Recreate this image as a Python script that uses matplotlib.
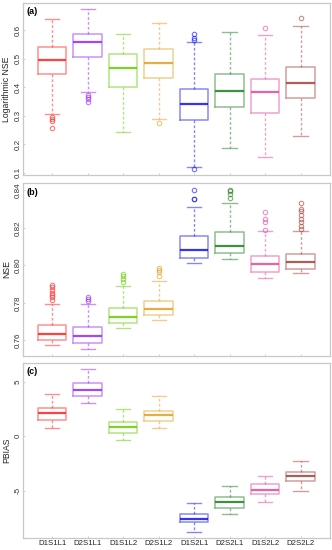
import matplotlib
matplotlib.use("Agg")
import matplotlib.pyplot as plt
from matplotlib.colors import to_rgba

plt.rcParams['font.family'] = ['Liberation Sans', 'DejaVu Sans']

groups = ['D1S1L1', 'D2S1L1', 'D1S1L2', 'D2S1L2', 'D1S2L1', 'D2S2L1', 'D1S2L2', 'D2S2L2']
colors = ['#FF2020', '#9428F0', '#66CC00', '#E0A020', '#1010F0', '#1E7D1E', '#E0489A', '#A0403A']

# (whislo, q1, med, q3, whishi)
log_nse = [(0.304, 0.447, 0.495, 0.541, 0.638), (0.382, 0.506, 0.558, 0.588, 0.673),
           (0.241, 0.401, 0.466, 0.516, 0.588), (0.288, 0.431, 0.485, 0.534, 0.624),
           (0.121, 0.286, 0.342, 0.395, 0.558), (0.188, 0.332, 0.388, 0.447, 0.593),
           (0.155, 0.311, 0.382, 0.428, 0.582), (0.227, 0.362, 0.414, 0.472, 0.615)]
log_nse_out = [[0.296, 0.288, 0.280, 0.256], [0.374, 0.367, 0.358, 0.347], [], [0.273],
               [0.585, 0.571, 0.565, 0.114], [], [0.607], [0.641]]

nse = [(0.7573, 0.7600, 0.7632, 0.7680, 0.7796), (0.7552, 0.7584, 0.7621, 0.7671, 0.7796),
       (0.7666, 0.7691, 0.7725, 0.7773, 0.7891), (0.7709, 0.7734, 0.7766, 0.7811, 0.7916),
       (0.8011, 0.8038, 0.8084, 0.8155, 0.8311), (0.8034, 0.8066, 0.8105, 0.8177, 0.8334),
       (0.7932, 0.7962, 0.8007, 0.8052, 0.8186), (0.7959, 0.7980, 0.8018, 0.8062, 0.8182)]
nse_out = [[0.7813, 0.7829, 0.7841, 0.7855, 0.7871, 0.7886, 0.7895],
           [0.7811, 0.7820, 0.7829],
           [0.7909, 0.7927, 0.7941, 0.7954],
           [0.7945, 0.7962, 0.7977, 0.7984],
           [0.8352, 0.8355, 0.8404],
           [0.8361, 0.8382, 0.8395, 0.8404],
           [0.8189, 0.8234, 0.8245, 0.8284],
           [0.8195, 0.8212, 0.8230, 0.8248, 0.8270, 0.8291, 0.8302, 0.8332]]

pbias = [(0.72, 1.50, 2.13, 2.53, 3.81), (3.00, 3.69, 4.22, 4.84, 6.13),
         (-0.38, 0.31, 0.81, 1.28, 2.44), (0.72, 1.41, 1.91, 2.34, 3.63),
         (-8.75, -7.88, -7.56, -7.13, -6.13), (-7.13, -6.56, -6.06, -5.63, -4.59),
         (-6.06, -5.34, -4.91, -4.44, -3.63), (-5.06, -4.13, -3.66, -3.25, -2.28)]
pbias_out = [[] for _ in groups]

panels = [
    (log_nse, log_nse_out, 'Logarithmic NSE', '(a)', [0.1, 0.2, 0.3, 0.4, 0.5, 0.6], ['0.1', '0.2', '0.3', '0.4', '0.5', '0.6']),
    (nse, nse_out, 'NSE', '(b)', [0.76, 0.78, 0.80, 0.82, 0.84], ['0.76', '0.78', '0.80', '0.82', '0.84']),
    (pbias, pbias_out, 'PBIAS', '(c)', [-5, 0, 5], ['-5', '0', '5']),
]

W, H = 332, 550
rects = [(3, 175), (183.3, 355.7), (362.7, 538)]

fig = plt.figure(figsize=(W / 100, H / 100), dpi=100)
grey = '#C8C8C8'

for i, (stats5, outs, ylab, tag, yt, ytl) in enumerate(panels):
    top, bot = rects[i]
    ax = fig.add_axes([23 / W, 1 - bot / H, 306.7 / W, (bot - top) / H])
    pos = range(1, len(groups) + 1)
    for p, s, o, c in zip(pos, stats5, outs, colors):
        st = [dict(whislo=s[0], q1=s[1], med=s[2], q3=s[3], whishi=s[4], fliers=o)]
        light = to_rgba(c, 0.5)
        ax.bxp(st, positions=[p], widths=0.8, capwidths=0.4, patch_artist=False,
               boxprops=dict(color=light, linewidth=1.1),
               medianprops=dict(color=c, linewidth=1.6, alpha=0.85),
               whiskerprops=dict(color=light, linewidth=1.0, linestyle=(0, (2, 1.5))),
               capprops=dict(color=light, linewidth=1.0),
               flierprops=dict(marker='o', markersize=3.2, markerfacecolor='none',
                               markeredgecolor=to_rgba(c, 0.6), markeredgewidth=0.8))
    allv = [v for s in stats5 for v in s] + [v for o in outs for v in o]
    lo, hi = min(allv), max(allv)
    pad = (hi - lo) * 0.04
    ax.set_ylim(lo - pad, hi + pad)
    ax.set_xlim(0.18, 8.82)
    ax.set_yticks(yt)
    ax.set_yticklabels(ytl, rotation=90, va='center', fontsize=5.8, color='#333333')
    ax.set_xticks(list(pos))
    if i == 2:
        ax.set_xticklabels(groups, fontsize=5.6, color='#222222')
    else:
        ax.set_xticklabels([])
    ax.tick_params(direction='in', length=1.5, width=0.6, color=grey, pad=1.2)
    for sp in ax.spines.values():
        sp.set_color(grey)
        sp.set_linewidth(0.9)
    ax.set_ylabel(ylab, fontsize=6.2, labelpad=2.5, color='#222222')
    ax.text(0.012, 0.975, tag, transform=ax.transAxes, fontsize=6.5, fontweight='bold',
            va='top', ha='left')

fig.savefig('out.png', dpi=100)
